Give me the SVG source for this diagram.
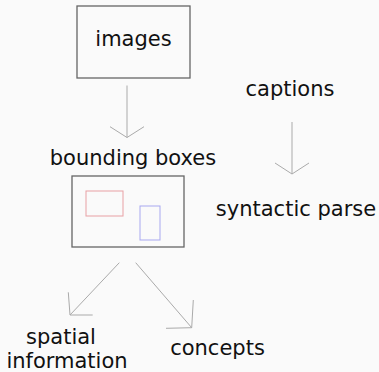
<svg xmlns="http://www.w3.org/2000/svg" width="379" height="372" viewBox="0 0 379 372">
<style>
text{font-family:"DejaVu Sans",sans-serif;font-size:21px;fill:#111;text-anchor:middle}
.box{fill:none;stroke:#666;stroke-width:1.3}
.arr{fill:none;stroke:#aaa;stroke-width:1}
</style>
<rect width="379" height="372" fill="#fafafa"/>
<g id="connectors">
<path class="arr" d="M127 85.5V137.5M110 126.7L127 137.5L144 126.7"/>
<path class="arr" d="M292 122V174M275 163L292 174L309 163"/>
<path class="arr" d="M119.3 262.7L70 315M68.3 292.3L70 315L92.7 315"/>
<path class="arr" d="M135.7 262.7L191.7 327.7M193.3 300L191.7 327.7L166 328.3"/>
</g>
<g id="images">
<rect class="box" x="77" y="6" width="113" height="72"/>
<text x="133.5" y="46">images</text>
</g>
<g id="captions"><text x="290" y="96">captions</text></g>
<g id="bounding-boxes">
<text x="133" y="165">bounding boxes</text>
<rect class="box" x="72" y="176" width="112" height="71"/>
<rect x="86" y="191" width="37" height="25" fill="none" stroke="#e8a0a4" stroke-width="1"/>
<rect x="140" y="206" width="20" height="34" fill="none" stroke="#a8a8f0" stroke-width="1"/>
</g>
<g id="syntactic-parse"><text x="296" y="216">syntactic parse</text></g>
<g id="spatial-information">
<text x="61" y="344">spatial</text>
<text x="67" y="368">information</text>
</g>
<g id="concepts"><text x="217.5" y="355">concepts</text></g>
</svg>
